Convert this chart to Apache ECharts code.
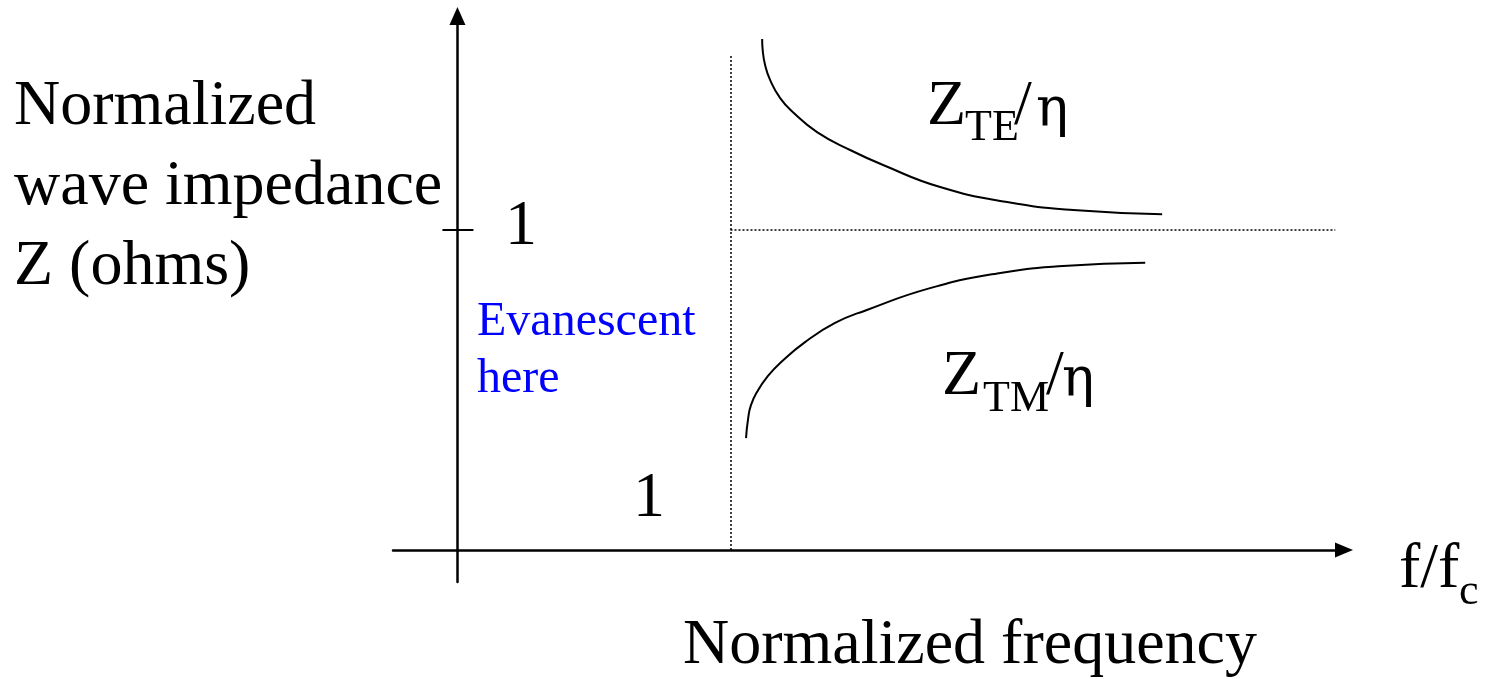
<!DOCTYPE html>
<html>
<head>
<meta charset="utf-8">
<script src="https://cdn.jsdelivr.net/npm/echarts@6/dist/echarts.min.js"></script>
<style>
  html, body { margin: 0; padding: 0; background: #fff; }
  #chart { width: 1489px; height: 679px; }
</style>
</head>
<body>
<div id="chart"></div>
<script>
// values (f/fc , Z/eta)
var teF = [1.116, 1.118, 1.127, 1.145, 1.182, 1.229, 1.317, 1.438, 1.559, 1.768, 2.013, 2.255, 2.581];
var teZ = [1.598, 1.563, 1.516, 1.470, 1.413, 1.369, 1.307, 1.251, 1.204, 1.135, 1.088, 1.063, 1.050];
var tmF = [1.057, 1.064, 1.075, 1.101, 1.134, 1.182, 1.273, 1.383, 1.497, 1.731, 1.977, 2.218, 2.519];
var tmZ = [0.350, 0.407, 0.453, 0.500, 0.541, 0.585, 0.650, 0.710, 0.750, 0.819, 0.865, 0.888, 0.898];

var cutoffF = 1;      // f/fc = 1
var unitZ = 1;        // Z/eta = 1
var dottedTopZ = 1.55;
var dottedEndF = 3.215;
var yTicks = [1];

var SERIF = "'Liberation Serif', 'Times New Roman', serif";
var GREEK = "'DejaVu Serif', serif";

function zip(a, b) {
  return a.map(function (v, i) { return [v, b[i]]; });
}

// text helper, y is the middle of the line
function txt(x, y, s, size, color, family) {
  return {
    type: 'text', x: x, y: y, silent: true,
    style: {
      text: s, font: size + 'px ' + (family || SERIF), fill: color || '#000',
      textAlign: 'left', align: 'left',
      textVerticalAlign: 'middle', verticalAlign: 'middle'
    }
  };
}

var chart = echarts.init(document.getElementById('chart'));

var option = {
  animation: false,
  backgroundColor: '#fff',
  grid: { left: 393, right: 145, top: 16, bottom: 97, containLabel: false, outerBoundsMode: 'none' },
  xAxis: {
    type: 'value', min: -0.236, max: 3.247,
    axisLine: {
      onZero: true,
      symbol: ['none', 'triangle'], symbolSize: [15, 18],
      lineStyle: { color: '#000', width: 2.5 }
    },
    axisTick: { show: false },
    axisLabel: { show: false },
    splitLine: { show: false }
  },
  yAxis: [
    {
      type: 'value', min: -0.1, max: 1.67,
      axisLine: {
        onZero: true,
        symbol: ['none', 'triangle'], symbolSize: [16, 18],
        lineStyle: { color: '#000', width: 2.5 }
      },
      axisTick: { show: true, length: 15, customValues: yTicks, lineStyle: { color: '#000', width: 2 } },
      axisLabel: { show: false },
      splitLine: { show: false }
    },
    {
      // second axis only for the inner half of the tick
      type: 'value', min: -0.1, max: 1.67, position: 'left',
      axisLine: { show: false, onZero: true, onZeroAxisIndex: 0 },
      axisTick: { show: true, inside: true, length: 16, customValues: yTicks, lineStyle: { color: '#000', width: 2 } },
      axisLabel: { show: false },
      splitLine: { show: false }
    }
  ],
  series: [
    {
      name: 'TE', type: 'line', smooth: 0.5, showSymbol: false, silent: true,
      data: zip(teF, teZ),
      lineStyle: { color: '#000', width: 2 },
      markLine: {
        silent: true, symbol: 'none', label: { show: false },
        lineStyle: { color: '#000', width: 1.5, type: [2, 2] },
        data: [
          [{ coord: [cutoffF, 0] }, { coord: [cutoffF, dottedTopZ] }],
          [{ coord: [cutoffF, unitZ] }, { coord: [dottedEndF, unitZ] }]
        ]
      }
    },
    {
      name: 'TM', type: 'line', smooth: 0.5, showSymbol: false, silent: true,
      data: zip(tmF, tmZ),
      lineStyle: { color: '#000', width: 2 }
    }
  ],
  graphic: [
    txt(14, 107, 'Normalized', 64),
    txt(14, 187, 'wave impedance', 64),
    txt(14, 267, 'Z (ohms)', 64),
    txt(477, 322, 'Evanescent', 48, '#0000ff'),
    txt(477, 379, 'here', 48, '#0000ff'),
    txt(505, 227, '1', 64),
    txt(633, 499, '1', 64),
    txt(927, 107, 'Z', 64),
    txt(965, 128, 'TE', 44),
    txt(1014, 107, '/', 64),
    txt(1036, 112, '\u03b7', 54, '#000', GREEK),
    txt(942, 377, 'Z', 64),
    txt(983, 399, 'TM', 44),
    txt(1046, 377, '/', 64),
    txt(1062, 382, '\u03b7', 54, '#000', GREEK),
    txt(1399, 570, 'f/f', 64),
    txt(1459, 592, 'c', 44),
    txt(683, 646, 'Normalized frequency', 64)
  ]
};

chart.setOption(option);
</script>
</body>
</html>
